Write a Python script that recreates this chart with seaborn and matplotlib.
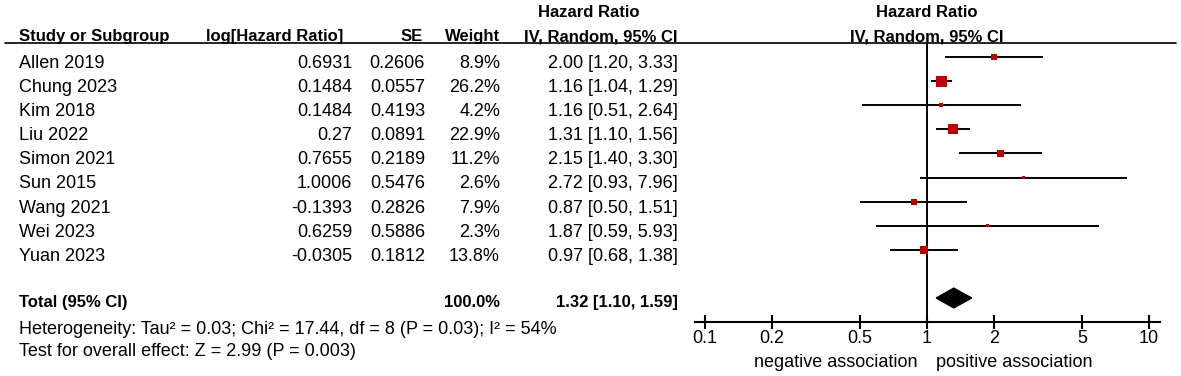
import numpy as np
import pandas as pd
import matplotlib
matplotlib.use('Agg')
import matplotlib.pyplot as plt
from matplotlib.lines import Line2D
from matplotlib.patches import Polygon
import seaborn as sns

## study data
studies = ['Allen 2019', 'Chung 2023', 'Kim 2018', 'Liu 2022', 'Simon 2021',
           'Sun 2015', 'Wang 2021', 'Wei 2023', 'Yuan 2023']
log_hr  = [0.6931, 0.1484, 0.1484, 0.27, 0.7655, 1.0006, -0.1393, 0.6259, -0.0305]
se      = [0.2606, 0.0557, 0.4193, 0.0891, 0.2189, 0.5476, 0.2826, 0.5886, 0.1812]
weight  = [8.9, 26.2, 4.2, 22.9, 11.2, 2.6, 7.9, 2.3, 13.8]
hr      = [2.00, 1.16, 1.16, 1.31, 2.15, 2.72, 0.87, 1.87, 0.97]
ci_lo   = [1.20, 1.04, 0.51, 1.10, 1.40, 0.93, 0.50, 0.59, 0.68]
ci_hi   = [3.33, 1.29, 2.64, 1.56, 3.30, 7.96, 1.51, 5.93, 1.38]

## pooled estimate
total_hr, total_lo, total_hi = 1.32, 1.10, 1.59
total_weight = 100.0
het_text  = 'Heterogeneity: Tau\u00b2 = 0.03; Chi\u00b2 = 17.44, df = 8 (P = 0.03); I\u00b2 = 54%'
test_text = 'Test for overall effect: Z = 2.99 (P = 0.003)'

tick_vals = [0.1, 0.2, 0.5, 1, 2, 5, 10]
tick_labs = ['0.1', '0.2', '0.5', '1', '2', '5', '10']

W, H = 1181, 376
FS = 13      # regular text
FSB = 12     # bold text
RED = '#C00000'

def fx(x): return x / W
def fy(y): return 1 - y / H

################################################
def main():
  sns.set_theme(style='white')
  plt.rcParams['font.family'] = ['Liberation Sans', 'DejaVu Sans']

  fig = plt.figure(figsize=(W/100, H/100), dpi=100)

  df = pd.DataFrame({'study': studies, 'hr': hr, 'lo': ci_lo, 'hi': ci_hi,
                     'weight': weight})
  df['row'] = np.arange(len(df))

  ## forest panel
  row0, step = 57, 24.1
  ax = fig.add_axes([fx(695), fy(322), fx(1160) - fx(695), (322 - 43) / H])
  ax.set_xscale('log')
  ax.set_xlim(0.0901, 11.21)
  ax.set_ylim((322 - row0) / step, (43 - row0) / step)

  ax.hlines(df['row'], df['lo'], df['hi'], color='black', lw=1.4, zorder=2)
  sns.scatterplot(data=df, x='hr', y='row', size='weight', sizes=(5, 62),
                  size_norm=(2.3, 26.2), marker='s', color=RED, linewidth=0,
                  legend=False, ax=ax, zorder=3)

  tot_row = len(df) + 1
  ax.add_patch(Polygon([(total_lo, tot_row), (total_hr, tot_row - 0.41),
                        (total_hi, tot_row), (total_hr, tot_row + 0.41)],
                       closed=True, color='black', zorder=3))
  ax.axvline(1, color='black', lw=1.4, zorder=1)

  for s in ['top', 'right', 'left']:
    ax.spines[s].set_visible(False)
  ax.spines['bottom'].set_linewidth(1.5)
  ax.spines['bottom'].set_color('black')
  ax.set_xticks(tick_vals)
  ax.set_xticklabels(tick_labs)
  ax.minorticks_off()
  ax.set_yticks([])
  ax.set_xlabel('')
  ax.set_ylabel('')
  ax.tick_params(axis='x', direction='inout', length=9.4, width=1.5,
                 colors='black', labelsize=FS, pad=1, bottom=True)
  ax.grid(False)
  ax.patch.set_alpha(0)

  ## header line
  fig.add_artist(Line2D([fx(5), fx(1176)], [fy(43), fy(43)], lw=1.2,
                        color='black'))

  ## headers
  bold = dict(fontsize=FSB, fontweight='bold', color='black', va='baseline')
  fig.text(fx(19), fy(41), 'Study or Subgroup', ha='left', **bold)
  fig.text(fx(343), fy(41), 'log[Hazard Ratio]', ha='right', **bold)
  fig.text(fx(423), fy(41), 'SE', ha='right', **bold)
  fig.text(fx(500), fy(41), 'Weight', ha='right', **bold)
  fig.text(fx(589), fy(17), 'Hazard Ratio', ha='center', **bold)
  fig.text(fx(678), fy(41), 'IV, Random, 95% CI', ha='right', **bold)
  fig.text(fx(927), fy(17), 'Hazard Ratio', ha='center', **bold)
  fig.text(fx(927), fy(41), 'IV, Random, 95% CI', ha='center', **bold)

  ## table rows
  norm = dict(fontsize=FS, color='black', va='baseline')
  for i in range(len(studies)):
    yb = fy(row0 + step * i + 11)
    fig.text(fx(19), yb, studies[i], ha='left', **norm)
    fig.text(fx(352), yb, '{:g}'.format(log_hr[i]), ha='right', **norm)
    fig.text(fx(425), yb, '{:.4f}'.format(se[i]), ha='right', **norm)
    fig.text(fx(500), yb, '{:.1f}%'.format(weight[i]), ha='right', **norm)
    fig.text(fx(678), yb, '{:.2f} [{:.2f}, {:.2f}]'.format(hr[i], ci_lo[i], ci_hi[i]),
             ha='right', **norm)

  ## total + footer
  fig.text(fx(19), fy(307), 'Total (95% CI)', ha='left', **bold)
  fig.text(fx(500), fy(307), '{:.1f}%'.format(total_weight), ha='right', **bold)
  fig.text(fx(678), fy(307), '{:.2f} [{:.2f}, {:.2f}]'.format(total_hr, total_lo, total_hi),
           ha='right', **bold)
  fig.text(fx(19), fy(334), het_text, ha='left', **norm)
  fig.text(fx(19), fy(356), test_text, ha='left', **norm)

  fig.text(fx(918), fy(367), 'negative association', ha='right', **norm)
  fig.text(fx(936), fy(367), 'positive association', ha='left', **norm)

  fig.savefig('out.png', dpi=100)

if __name__ == '__main__':
  main()
